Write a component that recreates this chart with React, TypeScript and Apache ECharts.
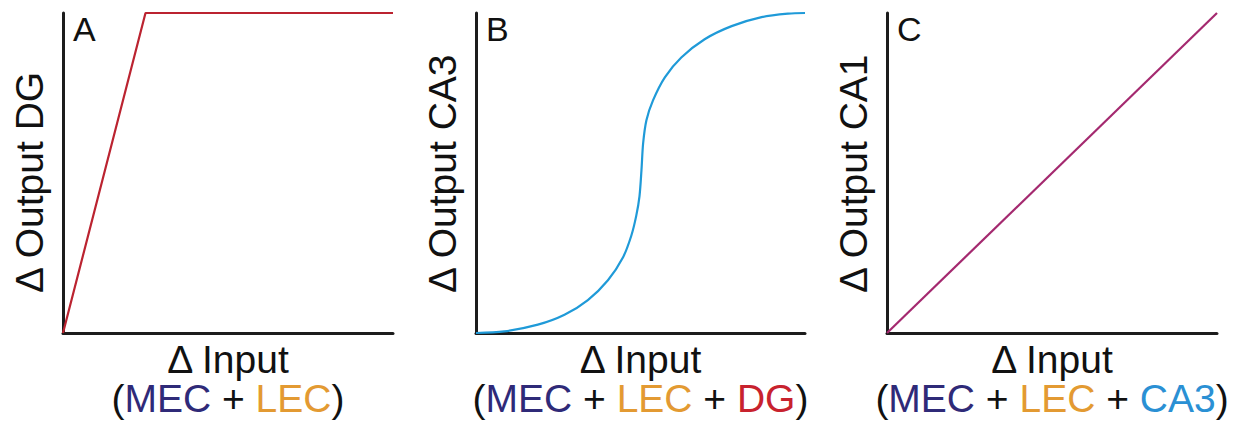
import React, { useEffect, useRef } from "react";
import * as echarts from "echarts";

const panelLetters = ["A", "B", "C"];
const yAxisTitles = ["Δ Output DG", "Δ Output CA3", "Δ Output CA1"];
const xAxisTitle = "Δ Input";
const inputSources = [
  ["MEC", "LEC"],
  ["MEC", "LEC", "DG"],
  ["MEC", "LEC", "CA3"],
];

const curveA: [number, number][] = [
  [0, 0],
  [0.25, 1],
  [1, 1],
];
const curveB: [number, number][] = [
  [0, 0],
  [0.086, 0.005],
  [0.188, 0.026],
  [0.269, 0.057],
  [0.34, 0.103],
  [0.401, 0.165],
  [0.447, 0.237],
  [0.472, 0.304],
  [0.487, 0.366],
  [0.497, 0.428],
  [0.503, 0.51],
  [0.508, 0.593],
  [0.518, 0.665],
  [0.538, 0.727],
  [0.574, 0.799],
  [0.624, 0.861],
  [0.695, 0.918],
  [0.777, 0.959],
  [0.868, 0.987],
  [0.949, 0.998],
  [1, 1],
];
const curveC: [number, number][] = [
  [0, 0],
  [1, 1],
];

const FONT = "'Liberation Sans', Arial, Helvetica, sans-serif";
const FS = 39;
const sourceColors: Record<string, string> = {
  MEC: "#2f2a78",
  LEC: "#e39a32",
  DG: "#c8222e",
  CA3: "#2a90d4",
};
const lineColors = ["#bb2330", "#1f9ad8", "#a4296f"];
const gridLefts = [63, 476, 887];
const gridWidths = [330, 329, 330];
const gridTop = 13;
const gridHeight = 321;

export default function App() {
  const ref = useRef<HTMLDivElement>(null);
  useEffect(() => {
    document.body.style.margin = "0";
    const chart = echarts.init(ref.current!, null, { renderer: "svg" });
    const curves = [curveA, curveB, curveC];
    const rich: Record<string, any> = {
      k: { fontSize: FS, color: "#111", fontFamily: FONT, lineHeight: 39 },
    };
    Object.keys(sourceColors).forEach((s) => {
      rich[s] = { fontSize: FS, color: sourceColors[s], fontFamily: FONT, lineHeight: 39 };
    });
    const xName = (srcs: string[]) =>
      xAxisTitle +
      "\n{k|(}" +
      srcs.map((s) => `{${s}|${s}}`).join("{k| + }") +
      "{k|)}";

    const letterGraphics = panelLetters.map((t, i) => ({
      type: "text",
      left: gridLefts[i] + 10,
      top: 12,
      style: { text: t, fontSize: 34, fill: "#111", fontFamily: FONT },
    }));
    const yTitleGraphics = yAxisTitles.map((t, i) => ({
      type: "text",
      x: gridLefts[i] - 34,
      y: gridTop + gridHeight - 41,
      rotation: Math.PI / 2,
      style: {
        text: t,
        fontSize: FS,
        fill: "#111",
        fontFamily: FONT,
        align: "left",
        verticalAlign: "middle",
      },
    }));

    const option: any = {
      animation: false,
      backgroundColor: "#fff",
      grid: gridLefts.map((l, i) => ({
        left: l,
        top: gridTop,
        width: gridWidths[i],
        height: gridHeight,
      })),
      xAxis: curves.map((_, i) => ({
        type: "value",
        gridIndex: i,
        min: 0,
        max: 1,
        axisLine: { show: true, lineStyle: { color: "#1c1c1c", width: 3 } },
        axisTick: { show: false },
        axisLabel: { show: false },
        splitLine: { show: false },
        name: xName(inputSources[i]),
        nameLocation: "middle",
        nameGap: 7,
        nameTextStyle: {
          fontSize: FS,
          color: "#111",
          fontFamily: FONT,
          lineHeight: 39,
          verticalAlign: "top",
          rich,
        },
      })),
      yAxis: curves.map((_, i) => ({
        type: "value",
        gridIndex: i,
        min: 0,
        max: 1,
        axisLine: { show: true, lineStyle: { color: "#1c1c1c", width: 3 } },
        axisTick: { show: false },
        axisLabel: { show: false },
        splitLine: { show: false },
      })),
      series: curves.map((c, i) => ({
        type: "line",
        xAxisIndex: i,
        yAxisIndex: i,
        data: c,
        showSymbol: false,
        smooth: i === 1 ? 0.3 : false,
        clip: false,
        lineStyle: { color: lineColors[i], width: 2.2 },
        z: 5,
      })),
      graphic: [...letterGraphics, ...yTitleGraphics],
    };
    chart.setOption(option);
    return () => chart.dispose();
  }, []);
  return (
    <div
      ref={ref}
      style={{ position: "absolute", left: 0, top: 0, width: 1247, height: 423 }}
    />
  );
}
